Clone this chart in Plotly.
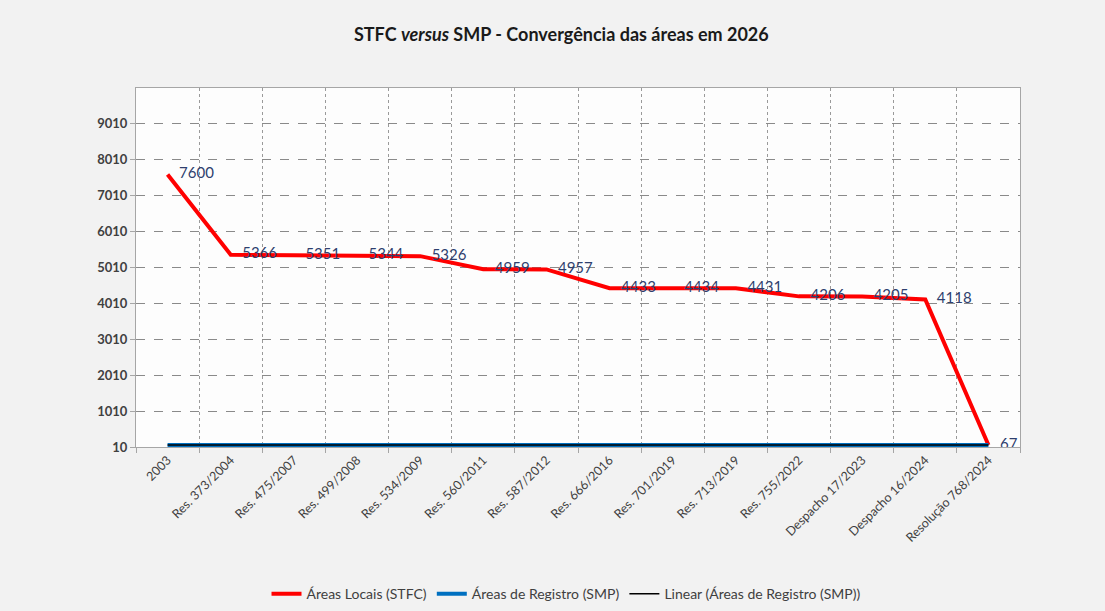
import plotly.graph_objects as go

categories = ["2003", "Res. 373/2004", "Res. 475/2007", "Res. 499/2008", "Res. 534/2009",
              "Res. 560/2011", "Res. 587/2012", "Res. 666/2016", "Res. 701/2019",
              "Res. 713/2019", "Res. 755/2022", "Despacho 17/2023", "Despacho 16/2024",
              "Resolução 768/2024"]
stfc = [7600, 5366, 5351, 5344, 5326, 4959, 4957, 4433, 4434, 4431, 4206, 4205, 4118, 67]
smp = [67] * len(categories)
y_ticks = [10, 1010, 2010, 3010, 4010, 5010, 6010, 7010, 8010, 9010]

FONT = "Lato"

fig = go.Figure()
fig.add_trace(go.Scatter(
    x=categories, y=stfc, mode="lines+text", name="Áreas Locais (STFC)",
    line=dict(color="#ff0000", width=4),
    text=["   " + str(v) for v in stfc], textposition="middle right",
    textfont=dict(family=FONT, size=15, color="#2e3f6e"),
))
fig.add_trace(go.Scatter(
    x=categories, y=smp, mode="lines", name="Áreas de Registro (SMP)",
    line=dict(color="#0070c0", width=4),
))
fig.add_trace(go.Scatter(
    x=categories, y=smp, mode="lines", name="Linear (Áreas de Registro (SMP))",
    line=dict(color="#000000", width=1.5),
))

fig.update_layout(
    width=1105, height=611,
    paper_bgcolor="#f2f2f2", plot_bgcolor="#fdfdfd",
    margin=dict(l=136, r=85, t=88, b=164, autoexpand=False),
    font=dict(family=FONT, color="#404040", size=12),
    title=dict(text="<b>STFC <i>versus</i> SMP - Convergência das áreas em 2026</b>",
               x=0.508, xanchor="center", y=0.943, yanchor="middle",
               font=dict(family=FONT, size=18, color="#1a1a1a")),
    showlegend=True,
    legend=dict(orientation="h", x=0.487, xanchor="center", y=-0.41, yanchor="middle",
                font=dict(family=FONT, size=14, color="#404040"),
                bgcolor="rgba(0,0,0,0)"),
)
fig.update_xaxes(
    type="category", tickson="boundaries", tickangle=-45, automargin=False,
    showgrid=True, gridcolor="#9a9a9a", griddash="dot", gridwidth=1,
    showline=True, linecolor="#a6a6a6", linewidth=1, mirror=True,
    ticks="outside", ticklen=5, tickcolor="#a6a6a6",
    tickfont=dict(family=FONT, size=12.5, color="#404040"),
    range=[-0.5, len(categories) - 0.5],
)
fig.update_yaxes(
    range=[10, 10010], tickvals=y_ticks, ticktext=["<b>" + str(v) + "</b>" for v in y_ticks],
    automargin=False,
    showgrid=True, gridcolor="#8a8a8a", griddash="dash", gridwidth=1,
    showline=True, linecolor="#a6a6a6", linewidth=1, mirror=True,
    ticks="outside", ticklen=5, tickcolor="#a6a6a6",
    tickfont=dict(family=FONT, size=13, color="#404040"),
    zeroline=False,
)

fig.write_html(
    "out.html",
    config={"displayModeBar": False},
    post_script="document.body.style.margin='0';document.body.style.background='#f2f2f2';",
)
